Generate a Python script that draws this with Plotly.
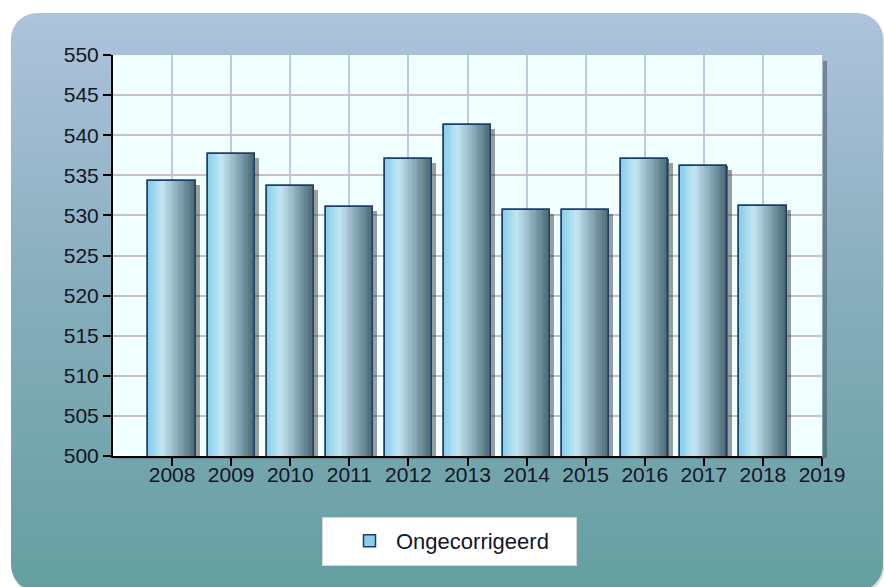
import base64
import plotly.graph_objects as go

# ---- data ----
years = [2008, 2009, 2010, 2011, 2012, 2013, 2014, 2015, 2016, 2017, 2018]
values = [534.25, 537.7, 533.7, 531.0, 537.0, 541.25, 530.7, 530.7, 537.0, 536.2, 531.2]
x_ticks = [2008, 2009, 2010, 2011, 2012, 2013, 2014, 2015, 2016, 2017, 2018, 2019]
y_ticks = [500, 505, 510, 515, 520, 525, 530, 535, 540, 545, 550]
series_name = "Ongecorrigeerd"

W, H = 884, 587
L, R, T, B = 113, 62, 55, 131
PW, PH = W - L - R, H - T - B

FONT = "Liberation Sans, Arial, sans-serif"
BORDER = "#1f3d6b"
BAR_W = 0.8

fig = go.Figure()

# drop shadow of the bars
fig.add_trace(go.Bar(
    x=years, y=[v - 0.5 for v in values],
    width=BAR_W, offset=-BAR_W / 2 + 0.07,
    marker=dict(color="rgba(40,40,40,0.45)", line=dict(width=0)),
    showlegend=False, hoverinfo="skip"))

# base bar (legend entry)
fig.add_trace(go.Bar(
    x=years, y=values, name=series_name,
    width=BAR_W, offset=-BAR_W / 2,
    marker=dict(color="#87CEEB", line=dict(color=BORDER, width=1.5)),
    showlegend=True))

# horizontal gradient built from narrow stripes of the same bars
stops = [(0.0, (135, 206, 235)), (0.3, (196, 230, 243)), (0.55, (150, 184, 198)),
         (1.0, (70, 100, 110))]


def col_at(t):
    for (t0, c0), (t1, c1) in zip(stops[:-1], stops[1:]):
        if t0 <= t <= t1:
            f = (t - t0) / (t1 - t0)
            return "rgb(%d,%d,%d)" % tuple(round(a + (b - a) * f) for a, b in zip(c0, c1))
    return "rgb(%d,%d,%d)" % stops[-1][1]


N = 20
sw = BAR_W / N
for i in range(N):
    t = (i + 0.5) / N
    fig.add_trace(go.Bar(
        x=years, y=values, width=sw * 1.05, offset=-BAR_W / 2 + i * sw,
        marker=dict(color=col_at(t), line=dict(width=0)),
        showlegend=False, hoverinfo="skip"))

# border on top
fig.add_trace(go.Bar(
    x=years, y=values, width=BAR_W, offset=-BAR_W / 2,
    marker=dict(color="rgba(0,0,0,0)", line=dict(color=BORDER, width=1.5)),
    showlegend=False, hoverinfo="skip"))

# panel background (rounded, vertical gradient) + plot-area fill + legend box
svg = f'''<svg xmlns="http://www.w3.org/2000/svg" width="{W}" height="{H}" viewBox="0 0 {W} {H}" preserveAspectRatio="none">
<defs><linearGradient id="g" x1="0" y1="0" x2="0" y2="1">
<stop offset="0" stop-color="#aec3dd"/><stop offset="0.5" stop-color="#86adbb"/><stop offset="1" stop-color="#649fa0"/>
</linearGradient></defs>
<rect x="12" y="14" width="872" height="580" rx="26" ry="26" fill="#d0d0d0" opacity="0.7"/>
<rect x="11" y="13" width="872" height="578" rx="26" ry="26" fill="url(#g)"/>
<rect x="{L}" y="{T}" width="{PW}" height="{PH}" fill="#F0FFFF"/>
<rect x="{L + 2}" y="{T + PH}" width="{PW}" height="3" fill="#000" opacity="0.18"/>
<rect x="322.5" y="517.5" width="254" height="48" fill="white" stroke="#d6d6d6" stroke-width="1"/>
</svg>'''
src = "data:image/svg+xml;base64," + base64.b64encode(svg.encode()).decode()

fig.update_layout(
    width=W, height=H,
    margin=dict(l=L, r=R, t=T, b=B),
    paper_bgcolor="white",
    plot_bgcolor="#F0FFFF",
    barmode="overlay",
    bargap=0,
    font=dict(family=FONT, size=21, color="#151525"),
    images=[dict(source=src, xref="paper", yref="paper",
                 x=-L / PW, y=1 + T / PH, sizex=W / PW, sizey=H / PH,
                 xanchor="left", yanchor="top", sizing="stretch", layer="below")],
    xaxis=dict(range=[2007, 2019], tickmode="array", tickvals=x_ticks,
               ticktext=[str(v) for v in x_ticks],
               showgrid=True, gridcolor="#bccae2", gridwidth=1.5,
               ticks="outside", ticklen=8, tickcolor="black", tickwidth=1.5,
               ticklabelstandoff=-9,
               showline=True, linecolor="black", linewidth=2,
               zeroline=False, fixedrange=True),
    yaxis=dict(range=[500, 550], tickmode="array", tickvals=y_ticks,
               showgrid=True, gridcolor="#c6c2c2", gridwidth=1.5,
               ticks="outside", ticklen=8, tickcolor="black", tickwidth=1.5,
               showline=True, linecolor="black", linewidth=2,
               zeroline=False, fixedrange=True),
    legend=dict(x=(363 - 20 - L) / PW, y=(T + PH - 541) / PH, xanchor="left", yanchor="middle",
                orientation="h", bgcolor="rgba(0,0,0,0)", borderwidth=0,
                font=dict(size=22, family=FONT, color="#151525"),
                itemwidth=43),
    shapes=[
        dict(type="rect", xref="paper", yref="paper", xsizemode="pixel",
             xanchor=1, x0=1, x1=5, y0=-0.005, y1=0.985,
             fillcolor="rgba(60,60,60,0.45)", line=dict(width=0), layer="below"),
    ],
)

fig.write_html("out.html", config={"displayModeBar": False},
               post_script="document.body.style.margin='0';")
